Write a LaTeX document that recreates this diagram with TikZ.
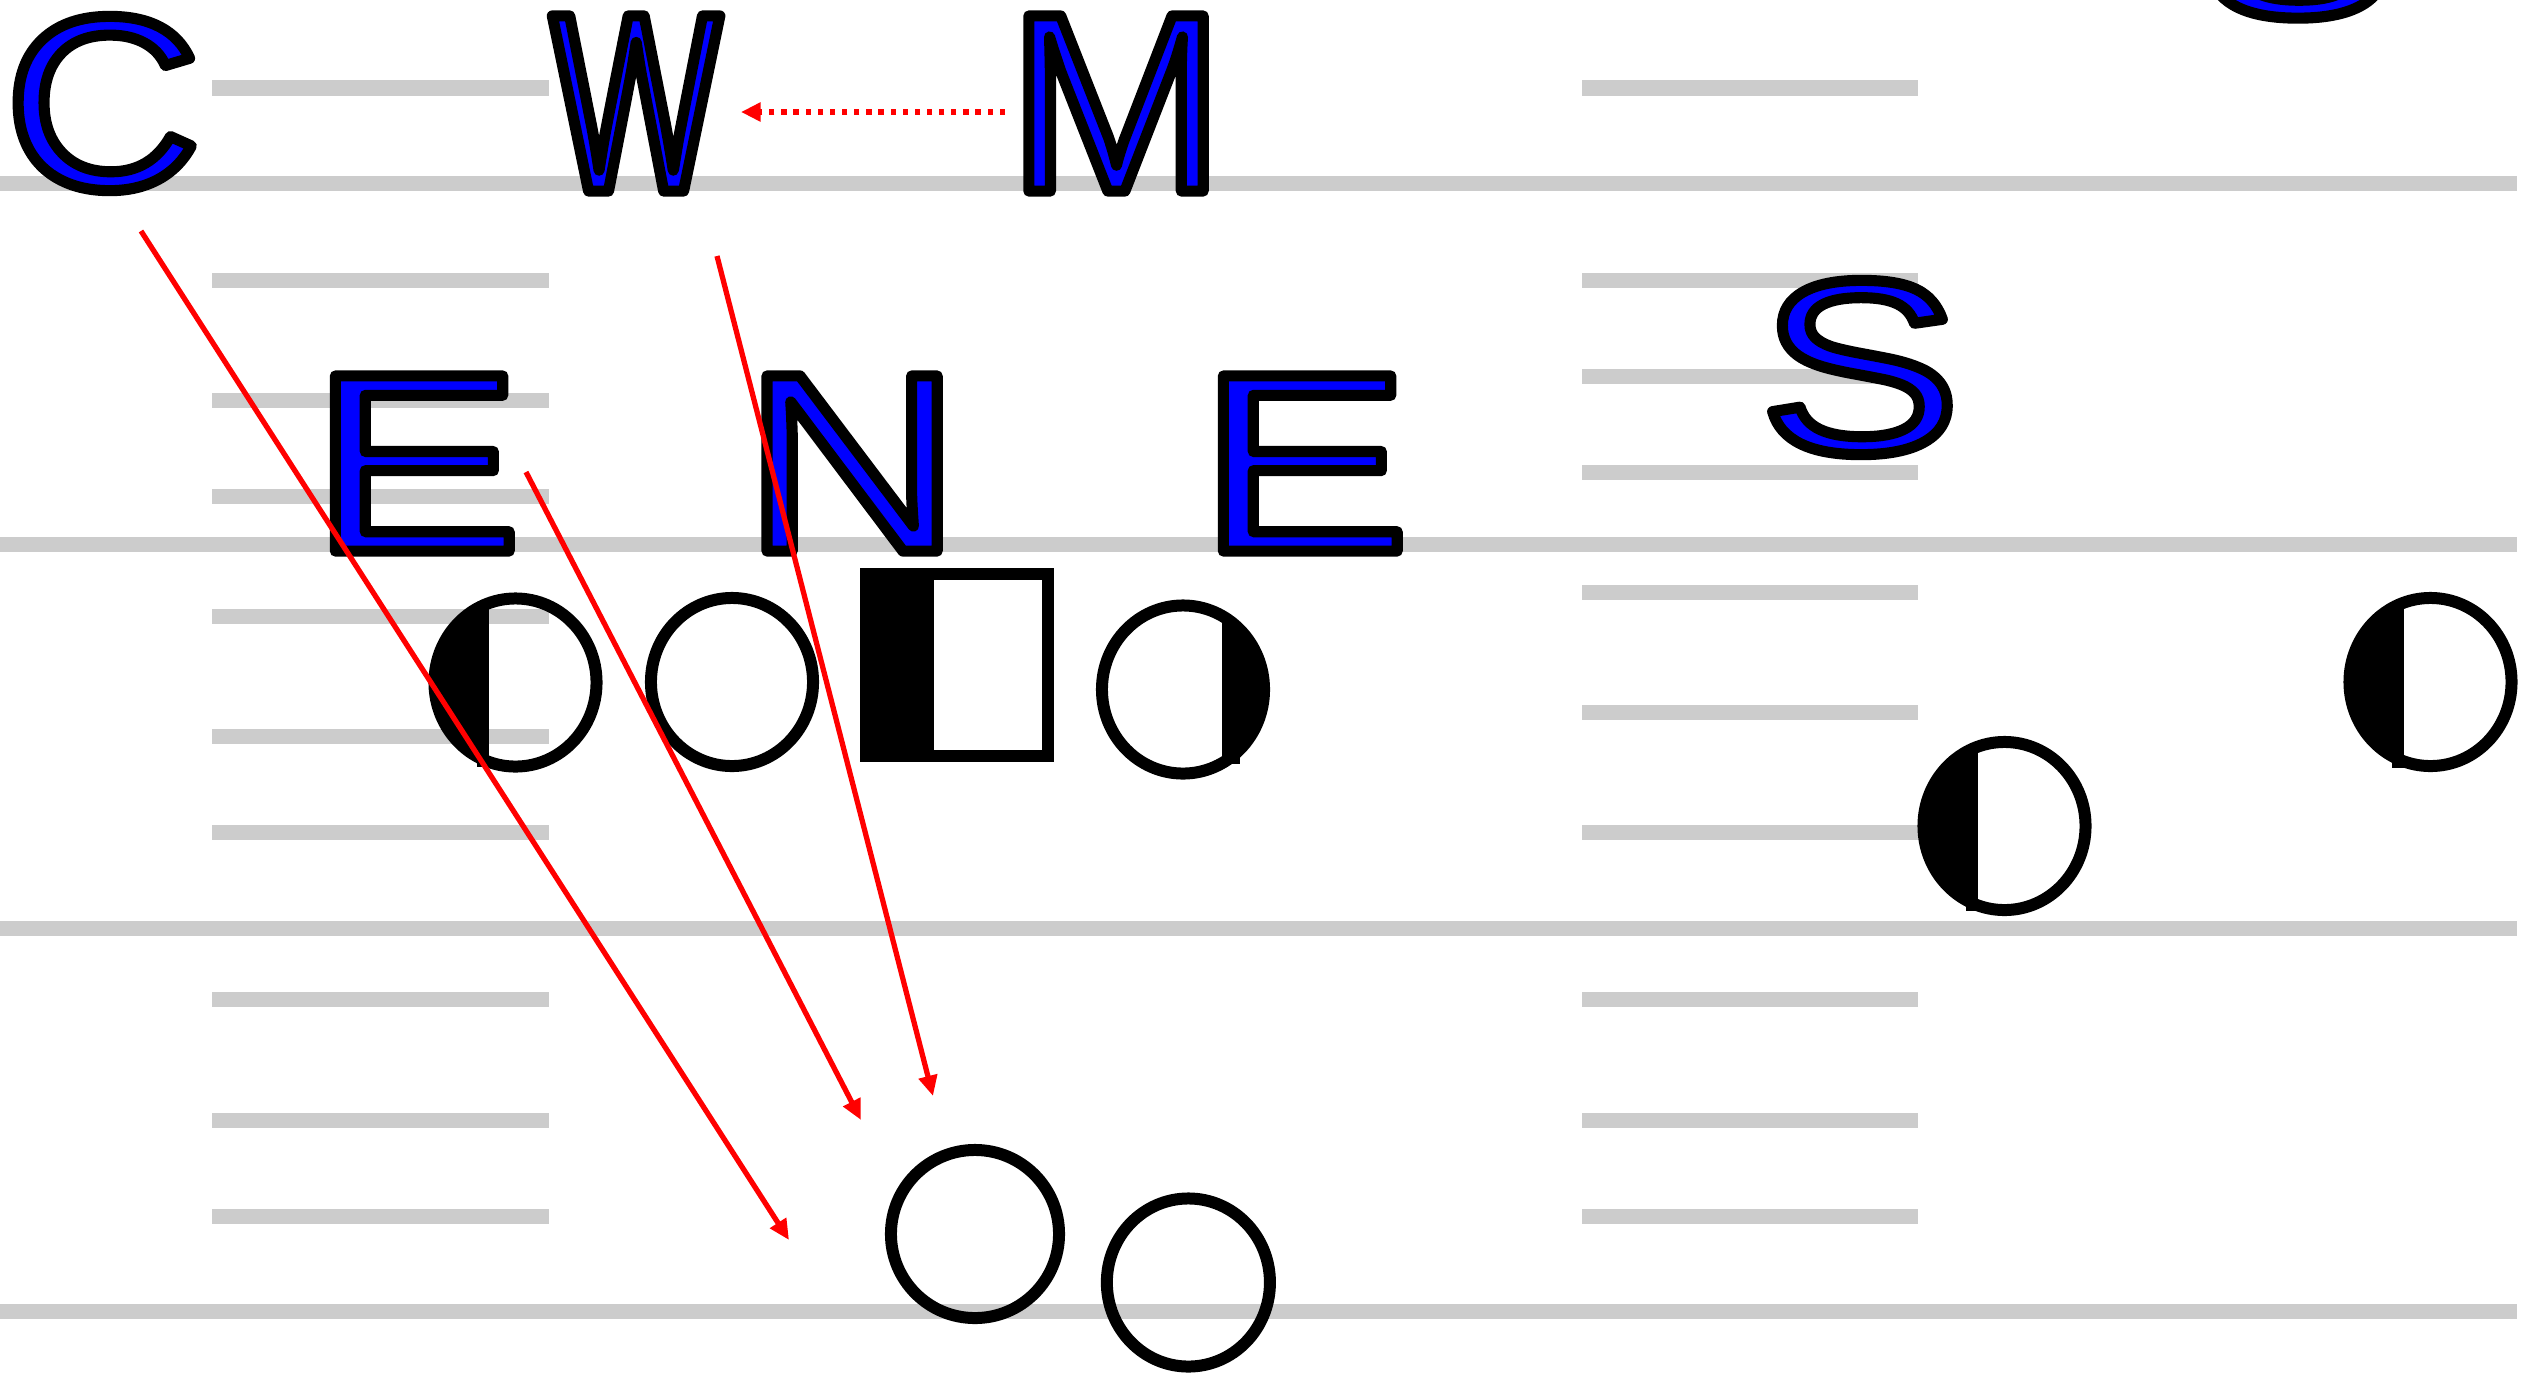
\documentclass[tikz,border=0pt]{standalone}
\usepackage{fontspec}
\usetikzlibrary{arrows.meta,shapes.geometric}
\newfontfamily\fntC{Liberation Sans}[FakeStretch=1.111]
\newfontfamily\fntW{Liberation Sans}[FakeStretch=0.703]
\newfontfamily\fntM{Liberation Sans}[FakeStretch=1.024]
\newfontfamily\fntE{Liberation Sans}[FakeStretch=1.26]
\newfontfamily\fntN{Liberation Sans}[FakeStretch=1.197]
\newfontfamily\fntS{Liberation Sans}[FakeStretch=1.232]
\definecolor{gridgray}{HTML}{CCCCCC}
\newcommand\outlined[1]{\special{pdf:literal direct 2 Tr 3.15 w 1 j 0 0 0 RG}#1\special{pdf:literal direct 0 Tr}}
\newcommand\ltr[3]{#1\fontsize{#2}{#2}\selectfont\outlined{#3}}
\begin{document}
\begin{tikzpicture}[x=0.01cm,y=-0.01cm,
  gridline/.style={gridgray, line width=4.27pt},
  letter/.style={inner sep=0pt, outer sep=0pt, text=blue},
  player/.style={ellipse, draw=black, line width=3.41pt, minimum width=1.62cm, minimum height=1.68cm, inner sep=0pt},
  leftfill/.style={path picture={\fill[black] ([xshift=-1cm]path picture bounding box.north west) rectangle ([xshift=#1]path picture bounding box.south);}},
  rightfill/.style={path picture={\fill[black] ([xshift=#1]path picture bounding box.north) rectangle ([xshift=1cm]path picture bounding box.south east);}},
  runarrow/.style={red, line width=1.5pt, -{Triangle[length=5.8pt,width=5.2pt]}},
  dotarrow/.style={red, line width=1.5pt, dash pattern=on 1.5pt off 1.95pt, -{Triangle[length=5.6pt,width=5.2pt]}}
]
\fill[white] (0,0) rectangle (2523,1378);
\useasboundingbox (0,0) rectangle (2523,1378);
% field lines
\foreach \yy in {183.5,544,928.5,1311} \draw[gridline] (0,\yy) -- (2517,\yy);
\foreach \yy in {88,280,400,496,616,736,832,999,1120,1216} \draw[gridline] (212,\yy) -- (549,\yy);
\foreach \yy in {88,280,376,472,592,712,832,999,1120,1216} \draw[gridline] (1582,\yy) -- (1918,\yy);
% letters
\node[letter] (lC) at (103,103.5) {\ltr{\fntC}{70pt}{C}};
\node[letter] (lW) at (636,103.5) {\ltr{\fntW}{72.4pt}{W}};
\node[letter] (lM) at (1116,103.5) {\ltr{\fntM}{72.4pt}{M}};
\node[letter] (lE1) at (416,463.5) {\ltr{\fntE}{72.4pt}{E}};
\node[letter] (lN) at (852,463.5) {\ltr{\fntN}{72.4pt}{N}};
\node[letter] (lE2) at (1304,463.5) {\ltr{\fntE}{72.4pt}{E}};
\node[letter] (lS) at (1860,367.5) {\ltr{\fntS}{70pt}{S}};
\node[letter] (lS2) at (2297,-69) {\ltr{\fntS}{70pt}{S}};
% players
\node[player, leftfill=-0.265cm] (p1) at (515.5,682.5) {};
\fill[black] (477,760) rectangle (489,767);
\node[player] (p2) at (732,682) {};
\node[draw=black, line width=3.41pt, minimum width=1.82cm, minimum height=1.82cm, inner sep=0pt,
  leftfill=-0.23cm] (p3) at (957,665) {};
\node[player, rightfill=0.39cm] (p4) at (1183,689.5) {};
\fill[black] (1226,756) rectangle (1240,764);
\node[player, leftfill=-0.27cm] (p5) at (2430.5,682) {};
\fill[black] (2392,763) rectangle (2404,768);
\node[player, leftfill=-0.27cm] (p6) at (2004.5,826) {};
\fill[black] (1966,906) rectangle (1978,911);
\node[player, minimum width=1.68cm] (p7) at (975,1234) {};
\node[player, minimum width=1.63cm] (p8) at (1188.4,1282.5) {};
% arrows
\coordinate (a1s) at (141,231);
\coordinate (a1e) at (789,1240);
\coordinate (a2s) at (526,472);
\coordinate (a2e) at (861,1120);
\coordinate (a3s) at (717,256);
\coordinate (a3e) at (933,1096);
\coordinate (a4s) at (1005,112);
\coordinate (a4e) at (741,112);
\draw[runarrow] (a1s) -- (a1e);
\draw[runarrow] (a2s) -- (a2e);
\draw[runarrow] (a3s) -- (a3e);
\draw[dotarrow] (a4s) -- (a4e);
\end{tikzpicture}
\end{document}
